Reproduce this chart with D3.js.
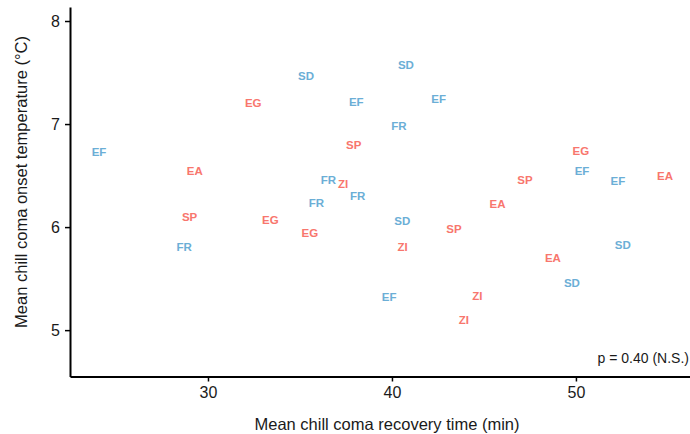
<!DOCTYPE html>
<html>
<head>
<meta charset="utf-8">
<script src="https://cdn.jsdelivr.net/npm/d3@7"></script>
<style>
  body { margin: 0; background: #fff; }
  svg { display: block; font-family: "Liberation Sans", Arial, sans-serif; }
  .pt { font-weight: bold; font-size: 11.5px; }
  .tick text { font-size: 16px; fill: #1a1a1a; }
</style>
</head>
<body>
<svg id="chart" width="690" height="434"></svg>
<script>
// population labels, recovery time (min), onset temperature (°C), group
const labels = ['EF', 'EA', 'SP', 'FR', 'EG', 'SD', 'EG', 'EG', 'FR', 'FR', 'ZI', 'FR', 'SP', 'EF', 'SD', 'EF',
  'FR', 'SD', 'ZI', 'EF', 'SP', 'ZI', 'ZI', 'EA', 'SP', 'EA', 'SD', 'EG', 'EF', 'EF', 'EA', 'SD'];
const recovery = [24.08, 29.28, 29.0, 28.71, 32.46, 35.33, 33.39, 35.54, 35.89, 36.54, 37.34, 38.14, 37.92, 38.06, 40.76, 42.54,
  40.38, 40.56, 40.58, 39.85, 43.37, 44.64, 43.91, 45.74, 47.23, 48.75, 49.78, 50.27, 50.33, 52.28, 54.84, 52.55];
const onset = [6.73, 6.55, 6.10, 5.81, 7.21, 7.47, 6.07, 5.94, 6.24, 6.46, 6.42, 6.30, 6.80, 7.22, 7.57, 7.24,
  6.98, 6.06, 5.81, 5.32, 5.98, 5.33, 5.10, 6.23, 6.46, 5.70, 5.46, 6.74, 6.55, 6.45, 6.50, 5.83];
const groups = ['B', 'A', 'A', 'B', 'A', 'B', 'A', 'A', 'B', 'B', 'A', 'B', 'A', 'B', 'B', 'B',
  'B', 'B', 'A', 'B', 'A', 'A', 'A', 'A', 'A', 'A', 'B', 'A', 'B', 'B', 'A', 'B'];
const xTicks = [30, 40, 50];
const yTicks = [5, 6, 7, 8];
const pText = 'p = 0.40 (N.S.)';

var svg = d3.select('#chart');

var x = d3.scaleLinear().domain([22.5, 56.2]).range([70, 690]);
var y = d3.scaleLinear().domain([4.55, 8.136]).range([376.5, 7]);

var color = d3.scaleOrdinal().domain(['A', 'B']).range(['#F8766D', '#6BAED6']);

var data = labels.map((d, i) => ({ label: d, x: recovery[i], y: onset[i], g: groups[i] }));

var xAxis = svg.append('g')
  .attr('transform', 'translate(0,376.5)')
  .call(d3.axisBottom(x).tickValues(xTicks).tickFormat(d3.format('d')).tickSize(5).tickPadding(5).tickSizeOuter(0));
var yAxis = svg.append('g')
  .attr('transform', 'translate(70,0)')
  .call(d3.axisLeft(y).tickValues(yTicks).tickFormat(d3.format('d')).tickSize(5).tickPadding(5).tickSizeOuter(0));

[xAxis, yAxis].forEach(a => {
  a.select('.domain').attr('stroke', '#000').attr('stroke-width', 2);
  a.selectAll('.tick line').attr('stroke', '#000').attr('stroke-width', 1.5);
  a.attr('font-family', null).attr('font-size', null);
});

svg.append('g')
  .selectAll('text')
  .data(data)
  .enter()
  .append('text')
  .attr('class', 'pt')
  .attr('x', d => x(d.x))
  .attr('y', d => y(d.y))
  .attr('text-anchor', 'middle')
  .attr('dy', '0.36em')
  .attr('fill', d => color(d.g))
  .text(d => d.label);

svg.append('text')
  .attr('x', 689)
  .attr('y', 363)
  .attr('text-anchor', 'end')
  .style('font-size', '14px')
  .attr('fill', '#1a1a1a')
  .text(pText);

svg.append('text')
  .attr('x', 387)
  .attr('y', 430)
  .attr('text-anchor', 'middle')
  .style('font-size', '16.5px')
  .attr('fill', '#1a1a1a')
  .text('Mean chill coma recovery time (min)');

svg.append('text')
  .attr('transform', 'translate(27,182) rotate(-90)')
  .attr('text-anchor', 'middle')
  .style('font-size', '16.5px')
  .attr('fill', '#1a1a1a')
  .text('Mean chill coma onset temperature (°C)');
</script>
</body>
</html>
